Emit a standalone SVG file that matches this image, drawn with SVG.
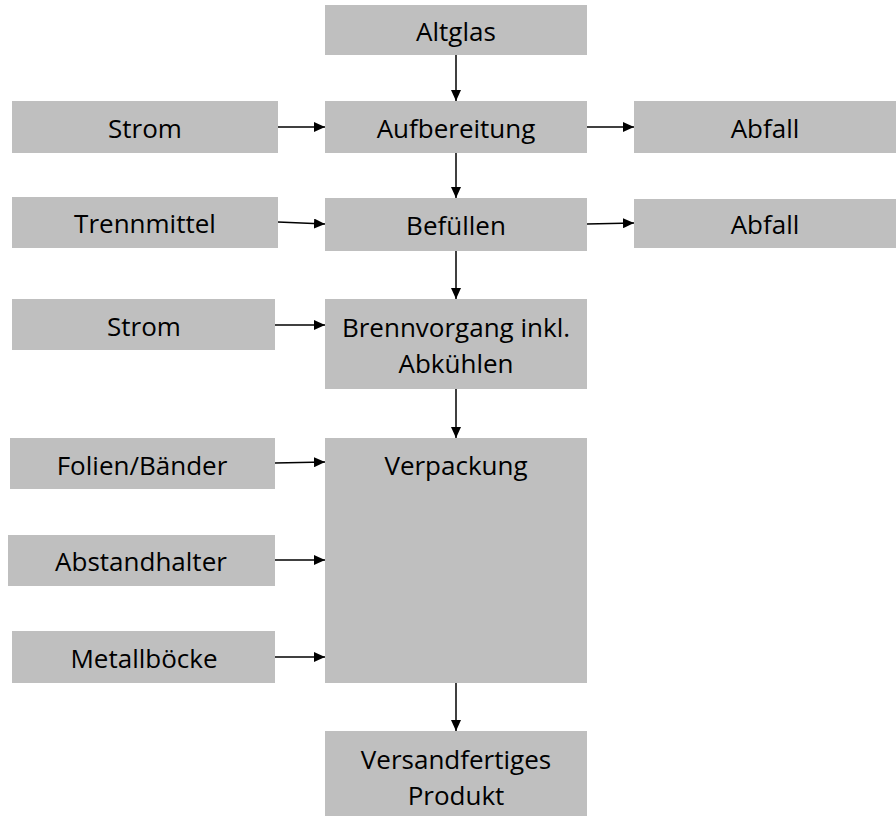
<svg xmlns="http://www.w3.org/2000/svg" width="896" height="816" viewBox="0 0 896 816">
  <style>
    .box { fill: #BFBFBF; }
    .lbl { font-family: "Open Sans", "Liberation Sans", sans-serif; font-size: 26px; fill: #000; text-anchor: middle; }
    .conn { stroke: #000; stroke-width: 1.5; fill: none; marker-end: url(#arrow); }
  </style>
  <defs>
    <marker id="arrow" markerUnits="userSpaceOnUse" markerWidth="12" markerHeight="10" refX="11" refY="5" orient="auto">
      <path d="M0,0 L11,5 L0,10 Z" fill="#000"/>
    </marker>
  </defs>
  <rect width="896" height="816" fill="#fff"/>

  <g id="altglas"><rect class="box" x="325" y="5" width="262" height="50"/><text class="lbl" x="456" y="41">Altglas</text></g>
  <g id="strom1"><rect class="box" x="12" y="101" width="266" height="52"/><text class="lbl" x="145" y="138">Strom</text></g>
  <g id="aufbereitung"><rect class="box" x="325" y="101" width="262" height="52"/><text class="lbl" x="456" y="138">Aufbereitung</text></g>
  <g id="abfall1"><rect class="box" x="634" y="101" width="262" height="52"/><text class="lbl" x="765" y="138">Abfall</text></g>
  <g id="trennmittel"><rect class="box" x="12" y="197" width="266" height="51"/><text class="lbl" x="145" y="233">Trennmittel</text></g>
  <g id="befuellen"><rect class="box" x="325" y="198" width="262" height="53"/><text class="lbl" x="456" y="235">Befüllen</text></g>
  <g id="abfall2"><rect class="box" x="634" y="199" width="262" height="49"/><text class="lbl" x="765" y="234">Abfall</text></g>
  <g id="strom2"><rect class="box" x="12" y="299" width="263" height="51"/><text class="lbl" x="144" y="336">Strom</text></g>
  <g id="brennvorgang"><rect class="box" x="325" y="299" width="262" height="90"/><text class="lbl" x="456" y="337">Brennvorgang inkl.</text><text class="lbl" x="456" y="373">Abkühlen</text></g>
  <g id="folien"><rect class="box" x="10" y="438" width="265" height="51"/><text class="lbl" x="142" y="475">Folien/Bänder</text></g>
  <g id="verpackung"><rect class="box" x="325" y="438" width="262" height="245"/><text class="lbl" x="456" y="475">Verpackung</text></g>
  <g id="abstandhalter"><rect class="box" x="8" y="535" width="267" height="51"/><text class="lbl" x="141" y="571">Abstandhalter</text></g>
  <g id="metallboecke"><rect class="box" x="12" y="631" width="263" height="52"/><text class="lbl" x="144" y="668">Metallböcke</text></g>
  <g id="versand"><rect class="box" x="325" y="731" width="262" height="90"/><text class="lbl" x="456" y="769">Versandfertiges</text><text class="lbl" x="456" y="805">Produkt</text></g>

  <g id="connectors">
    <line class="conn" x1="456" y1="55" x2="456" y2="101"/>
    <line class="conn" x1="456" y1="153" x2="456" y2="198"/>
    <line class="conn" x1="456" y1="251" x2="456" y2="299"/>
    <line class="conn" x1="456" y1="389" x2="456" y2="438"/>
    <line class="conn" x1="456" y1="683" x2="456" y2="731"/>
    <line class="conn" x1="278" y1="127" x2="325" y2="127"/>
    <line class="conn" x1="587" y1="127" x2="634" y2="127"/>
    <line class="conn" x1="278" y1="222" x2="325" y2="224"/>
    <line class="conn" x1="587" y1="224" x2="634" y2="223"/>
    <line class="conn" x1="275" y1="325" x2="325" y2="325"/>
    <line class="conn" x1="275" y1="463" x2="325" y2="462"/>
    <line class="conn" x1="275" y1="560" x2="325" y2="560"/>
    <line class="conn" x1="275" y1="657" x2="325" y2="657"/>
  </g>
</svg>
